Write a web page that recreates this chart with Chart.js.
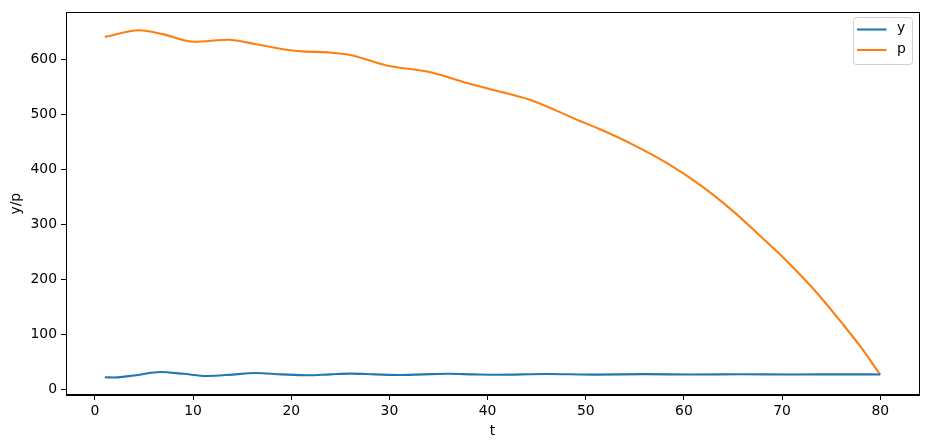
<!DOCTYPE html>
<html>
<head>
<meta charset="utf-8">
<script src="https://cdn.jsdelivr.net/npm/chart.js@4/dist/chart.umd.min.js"></script>
<style>
  html, body { margin: 0; padding: 0; background: #fff; }
  #wrap { width: 928px; height: 448px; }
</style>
</head>
<body>
<div id="wrap"><canvas id="plot"></canvas></div>
<script>
// values, t on the x axis
var yT    = [1, 2, 4, 6.7, 9, 11.4, 14, 16.3, 19, 21.6, 24, 26, 28.5, 31, 33.5, 36, 38.5, 41, 46, 51, 56, 61, 66, 71, 76, 80];
var yVals = [21.7, 21.3, 25, 31.3, 28, 24, 26.5, 29.5, 27, 25.3, 27, 28.3, 27, 25.8, 27, 28, 27, 26.2, 27.6, 26.5, 27.3, 26.6, 27.2, 26.7, 27, 26.8];

var pT    = [1, 4.5, 6.9, 10.1, 13.6, 16.3, 19.7, 21.1, 23.8, 26, 29.7, 34.1, 37.5, 40.9, 44.3, 49.4, 51.4, 54.8, 58.2, 61.6, 65, 67.7, 69.75, 71.8, 73.8, 75.9, 77.9, 80];
var pVals = [641, 653, 646, 632, 635.6, 628, 617, 614.5, 612.7, 608, 589, 577, 559, 543, 526.7, 488, 473.2, 445, 412, 372, 324, 280, 246, 209, 170, 124.6, 79.5, 26.5];

var xTicks = [0, 10, 20, 30, 40, 50, 60, 70, 80];
var yTicks = [0, 100, 200, 300, 400, 500, 600];

function toPoints(xs, vs){
    var out = [];
    for (var i = 0; i < xs.length; i++){
        out.push({x: xs[i], y: vs[i]});
    }
    return out;
}

var FONT = "'DejaVu Sans', sans-serif";

// box around the plot + matplotlib style legend in the upper right
var boxAndLegend = {
    id: 'boxAndLegend',
    afterDraw: function(chart){
        var ctx = chart.ctx;
        var a = chart.chartArea;
        ctx.save();
        ctx.strokeStyle = '#000';
        ctx.lineWidth = 1;
        ctx.strokeRect(Math.round(a.left) + 0.5, Math.round(a.top) + 0.5,
                       Math.round(a.right - a.left), Math.round(a.bottom - a.top));

        var x0 = 853.5, y0 = 17.5, w = 59, h = 47;
        ctx.beginPath();
        if (ctx.roundRect) ctx.roundRect(x0, y0, w, h, 3); else ctx.rect(x0, y0, w, h);
        ctx.fillStyle = 'rgba(255,255,255,0.8)';
        ctx.fill();
        ctx.strokeStyle = '#d0d0d0';
        ctx.stroke();

        var ds = chart.data.datasets;
        ctx.font = '13.9px ' + FONT;
        ctx.textBaseline = 'middle';
        ctx.textAlign = 'left';
        for (var i = 0; i < ds.length; i++){
            var ly = 29.5 + i * 20.5;
            ctx.beginPath();
            ctx.moveTo(857, ly);
            ctx.lineTo(886.5, ly);
            ctx.strokeStyle = ds[i].borderColor;
            ctx.lineWidth = 2.1;
            ctx.stroke();
            ctx.fillStyle = '#000';
            ctx.fillText(ds[i].label, 897, ly - 1);
        }
        ctx.restore();
    }
};

new Chart(document.getElementById('plot').getContext('2d'), {
    type: 'line',
    data: {
        datasets: [
            {
                label: 'y',
                data: toPoints(yT, yVals),
                borderColor: '#1f77b4',
                backgroundColor: '#1f77b4',
                borderWidth: 2.1,
                pointRadius: 0,
                cubicInterpolationMode: 'monotone',
                fill: false
            },
            {
                label: 'p',
                data: toPoints(pT, pVals),
                borderColor: '#ff7f0e',
                backgroundColor: '#ff7f0e',
                borderWidth: 2.1,
                pointRadius: 0,
                cubicInterpolationMode: 'monotone',
                fill: false
            }
        ]
    },
    options: {
        responsive: true,
        maintainAspectRatio: false,
        animation: false,
        layout: { padding: { top: 8, right: 9, left: 0, bottom: 0 } },
        plugins: {
            legend: { display: false },
            tooltip: { enabled: false }
        },
        scales: {
            x: {
                type: 'linear',
                min: -2.95,
                max: 83.95,
                afterBuildTicks: function(axis){
                    axis.ticks = xTicks.map(function(v){ return {value: v}; });
                },
                afterFit: function(axis){ axis.height = 53; },
                grid: { drawOnChartArea: false, drawTicks: true, tickLength: 5, color: '#000', tickWidth: 1 },
                border: { display: true, color: '#000' },
                ticks: { color: '#000', font: { family: FONT, size: 13.9 }, padding: 3, maxRotation: 0 },
                title: { display: true, text: 't', color: '#000', font: { family: FONT, size: 13.9 }, padding: { top: 1, bottom: 8 } }
            },
            y: {
                type: 'linear',
                min: -10.6,
                max: 685.6,
                afterBuildTicks: function(axis){
                    axis.ticks = yTicks.map(function(v){ return {value: v}; });
                },
                afterFit: function(axis){ axis.width = 66; },
                grid: { drawOnChartArea: false, drawTicks: true, tickLength: 5, color: '#000', tickWidth: 1 },
                border: { display: true, color: '#000' },
                ticks: { color: '#000', font: { family: FONT, size: 13.9 }, padding: 4 },
                title: { display: true, text: 'y/p', color: '#000', font: { family: FONT, size: 13.9 }, padding: { top: 8, bottom: 0 } }
            }
        }
    },
    plugins: [boxAndLegend]
});
</script>
</body>
</html>
